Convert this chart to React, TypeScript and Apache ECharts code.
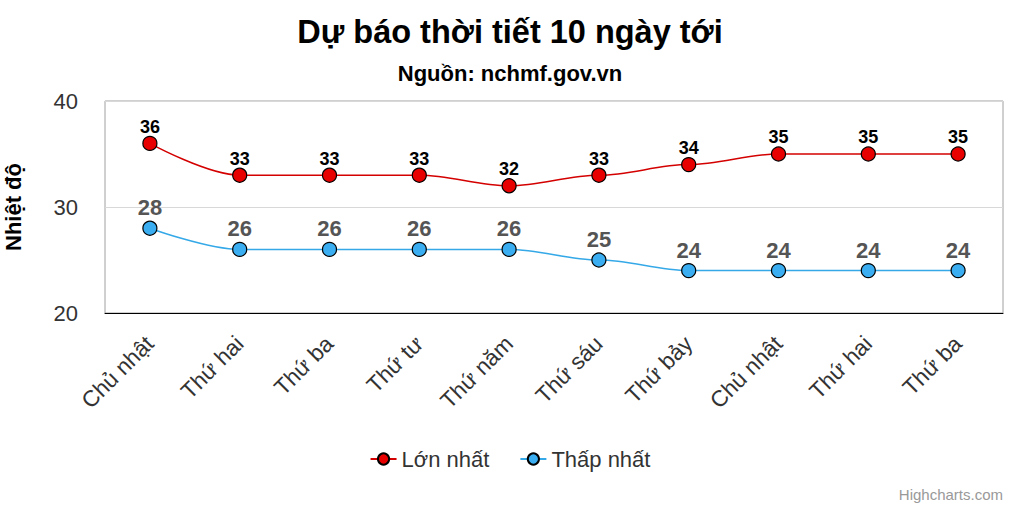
import React, { useEffect, useRef } from "react";
import * as echarts from "echarts";

const categories = ["Chủ nhật", "Thứ hai", "Thứ ba", "Thứ tư", "Thứ năm", "Thứ sáu", "Thứ bảy", "Chủ nhật", "Thứ hai", "Thứ ba"];
const maxTemps = [36, 33, 33, 33, 32, 33, 34, 35, 35, 35];
const minTemps = [28, 26, 26, 26, 26, 25, 24, 24, 24, 24];
const yTicks = { min: 20, max: 40, interval: 10 };

const FONT = "'Liberation Sans', Arial, sans-serif";

export default function App() {
  const ref = useRef<HTMLDivElement>(null);
  useEffect(() => {
    if (!ref.current) return;
    const chart = echarts.init(ref.current, null, { renderer: "svg" });
    chart.setOption({
      animation: false,
      backgroundColor: "#fff",
      textStyle: { fontFamily: FONT },
      title: [
        {
          text: "Dự báo thời tiết 10 ngày tới",
          left: "center",
          top: 10,
          textStyle: { fontFamily: FONT, fontSize: 32.5, fontWeight: "bold", color: "#000" },
        },
        {
          text: "Nguồn: nchmf.gov.vn",
          left: "center",
          top: 57,
          textStyle: { fontFamily: FONT, fontSize: 22, fontWeight: "bold", color: "#000" },
        },
      ],
      legend: {
        bottom: 35,
        left: "center",
        itemWidth: 26,
        itemHeight: 14,
        itemGap: 30,
        textStyle: { fontFamily: FONT, fontSize: 22, color: "#333" },
        data: ["Lớn nhất", "Thấp nhất"],
      },
      grid: {
        left: 105,
        right: 17,
        top: 101,
        bottom: 197,
        containLabel: false,
        outerBoundsMode: "none",
        show: true,
        borderColor: "#a0a0a0",
        borderWidth: 1,
        backgroundColor: "transparent",
      },
      xAxis: {
        type: "category",
        data: categories,
        boundaryGap: true,
        axisLine: { show: true, lineStyle: { color: "#000", width: 1 } },
        axisTick: { show: false },
        axisLabel: {
          rotate: 45,
          fontFamily: FONT,
          fontSize: 22.5,
          color: "#333",
          margin: 27,
          interval: 0,
        },
      },
      yAxis: {
        type: "value",
        min: yTicks.min,
        max: yTicks.max,
        interval: yTicks.interval,
        name: "Nhiệt độ",
        nameLocation: "middle",
        nameGap: 80,
        nameTextStyle: { fontFamily: FONT, fontSize: 22, lineHeight: 24, fontWeight: "bold", color: "#000" },
        axisLine: { show: false },
        axisTick: { show: false },
        axisLabel: { fontFamily: FONT, fontSize: 22, color: "#333", margin: 27 },
        splitLine: { show: true, lineStyle: { color: "#d8d8d8", width: 1 } },
      },
      graphic: [
        {
          type: "text",
          right: 17,
          bottom: 8,
          style: { text: "Highcharts.com", font: `15px ${FONT}`, fill: "#999" },
        },
      ],
      series: [
        {
          name: "Lớn nhất",
          type: "line",
          data: maxTemps,
          smooth: 0.35,
          smoothMonotone: "x",
          symbol: "circle",
          symbolSize: 14,
          lineStyle: { color: "#d40000", width: 1.5 },
          itemStyle: { color: "#e80000", borderColor: "#000", borderWidth: 1.2 },
          label: {
            show: true,
            position: "top",
            distance: 0,
            fontFamily: FONT,
            fontSize: 18,
            fontWeight: "bold",
            color: "#000",
          },
        },
        {
          name: "Thấp nhất",
          type: "line",
          data: minTemps,
          smooth: 0.35,
          smoothMonotone: "x",
          symbol: "circle",
          symbolSize: 14,
          lineStyle: { color: "#35a9e8", width: 1.5 },
          itemStyle: { color: "#3aaef0", borderColor: "#000", borderWidth: 1.2 },
          label: {
            show: true,
            position: "top",
            distance: 2,
            fontFamily: FONT,
            fontSize: 22,
            fontWeight: "bold",
            color: "#555",
          },
        },
      ],
    });
    return () => chart.dispose();
  }, []);
  return <div ref={ref} style={{ width: 1020, height: 510, position: "absolute", left: 0, top: 0 }} />;
}
